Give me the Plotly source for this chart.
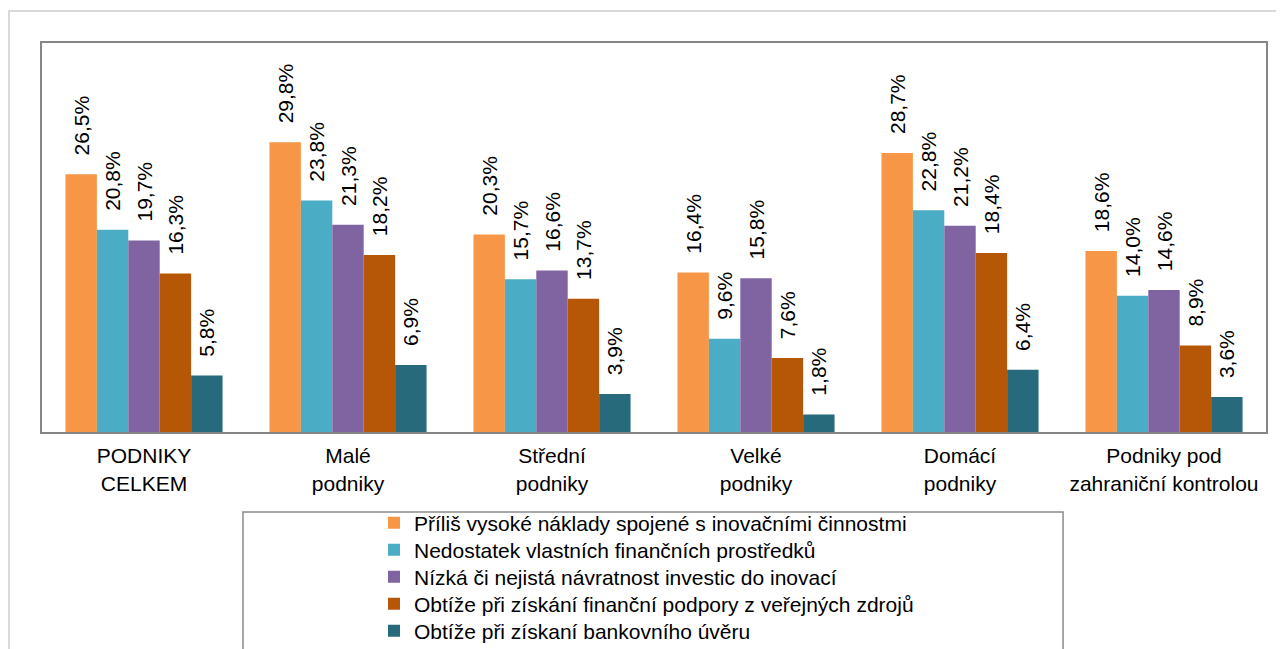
import plotly.graph_objects as go

categories = [
    "PODNIKY<br>CELKEM",
    "Malé<br>podniky",
    "Střední<br>podniky",
    "Velké<br>podniky",
    "Domácí<br>podniky",
    "Podniky pod<br>zahraniční kontrolou",
]
series_names = [
    "Příliš vysoké náklady spojené s inovačními činnostmi",
    "Nedostatek vlastních finančních prostředků",
    "Nízká či nejistá návratnost investic do inovací",
    "Obtíže při získání finanční podpory z veřejných zdrojů",
    "Obtíže při získaní bankovního úvěru",
]
naklady = [26.5, 29.8, 20.3, 16.4, 28.7, 18.6]
vlastni = [20.8, 23.8, 15.7, 9.6, 22.8, 14.0]
navratnost = [19.7, 21.3, 16.6, 15.8, 21.2, 14.6]
verejne = [16.3, 18.2, 13.7, 7.6, 18.4, 8.9]
uver = [5.8, 6.9, 3.9, 1.8, 6.4, 3.6]

colors = ["#F79646", "#4BACC6", "#8064A2", "#B65708", "#276A7C"]
series = [naklady, vlastni, navratnost, verejne, uver]

W, H = 1284, 649
FONT = 21
# leading spaces keep the rotated labels clear of the bar tops
PAD = "\u00a0\u00a0\u2009"

fig = go.Figure()
legend_ids = ["legend", "legend2", "legend3", "legend4", "legend5"]
for i, (name, vals) in enumerate(zip(series_names, series)):
    fig.add_trace(go.Bar(
        x=categories,
        y=vals,
        name=name,
        legend=legend_ids[i],
        marker=dict(color=colors[i], line=dict(width=0)),
        text=[PAD + f"{v:.1f}%".replace(".", ",") for v in vals],
        textposition="outside",
        textangle=-90,
        constraintext="none",
        textfont=dict(size=FONT, color="#000000"),
        cliponaxis=False,
    ))

# outer frame and legend frame (relative to the plot area)
fig.add_shape(type="rect", xref="paper", yref="paper", x0=-0.027, x1=1.05, y0=-0.7, y1=1.0823,
              line=dict(color="#D9D9D9", width=2), fillcolor="rgba(0,0,0,0)", layer="below")
fig.add_shape(type="rect", xref="paper", yref="paper", x0=0.1642, x1=0.8342, y0=-0.7, y1=-0.2057,
              line=dict(color="#8C8C8C", width=1.5), fillcolor="rgba(0,0,0,0)")

# the page body adds an 8px offset, so figure coords = screen coords - 8
legend_rows = [515, 542, 569, 596, 623]
legends = {}
for lid, row in zip(legend_ids, legend_rows):
    legends[lid] = dict(
        xref="container", yref="container",
        x=366 / W, xanchor="left",
        y=1 - row / H, yanchor="middle",
        font=dict(size=FONT, color="#000000"),
        bgcolor="rgba(0,0,0,0)",
        itemclick=False, itemdoubleclick=False,
    )

fig.update_layout(
    width=W,
    height=H,
    margin=dict(l=34, r=26, t=35, b=225, autoexpand=False),
    paper_bgcolor="white",
    plot_bgcolor="white",
    font=dict(family="Liberation Sans, Arial, sans-serif", color="#000000"),
    barmode="group",
    bargap=0.23,
    bargroupgap=0,
    showlegend=True,
    **legends,
)
fig.update_xaxes(
    showline=True, linecolor="#868686", linewidth=2, mirror=True,
    ticks="", tickfont=dict(size=FONT), ticklabelstandoff=4, showgrid=False,
)
fig.update_yaxes(
    range=[0, 40], showline=True, linecolor="#868686", linewidth=2, mirror=True,
    showticklabels=False, showgrid=False, zeroline=False, ticks="",
)

fig.write_html("out.html")
